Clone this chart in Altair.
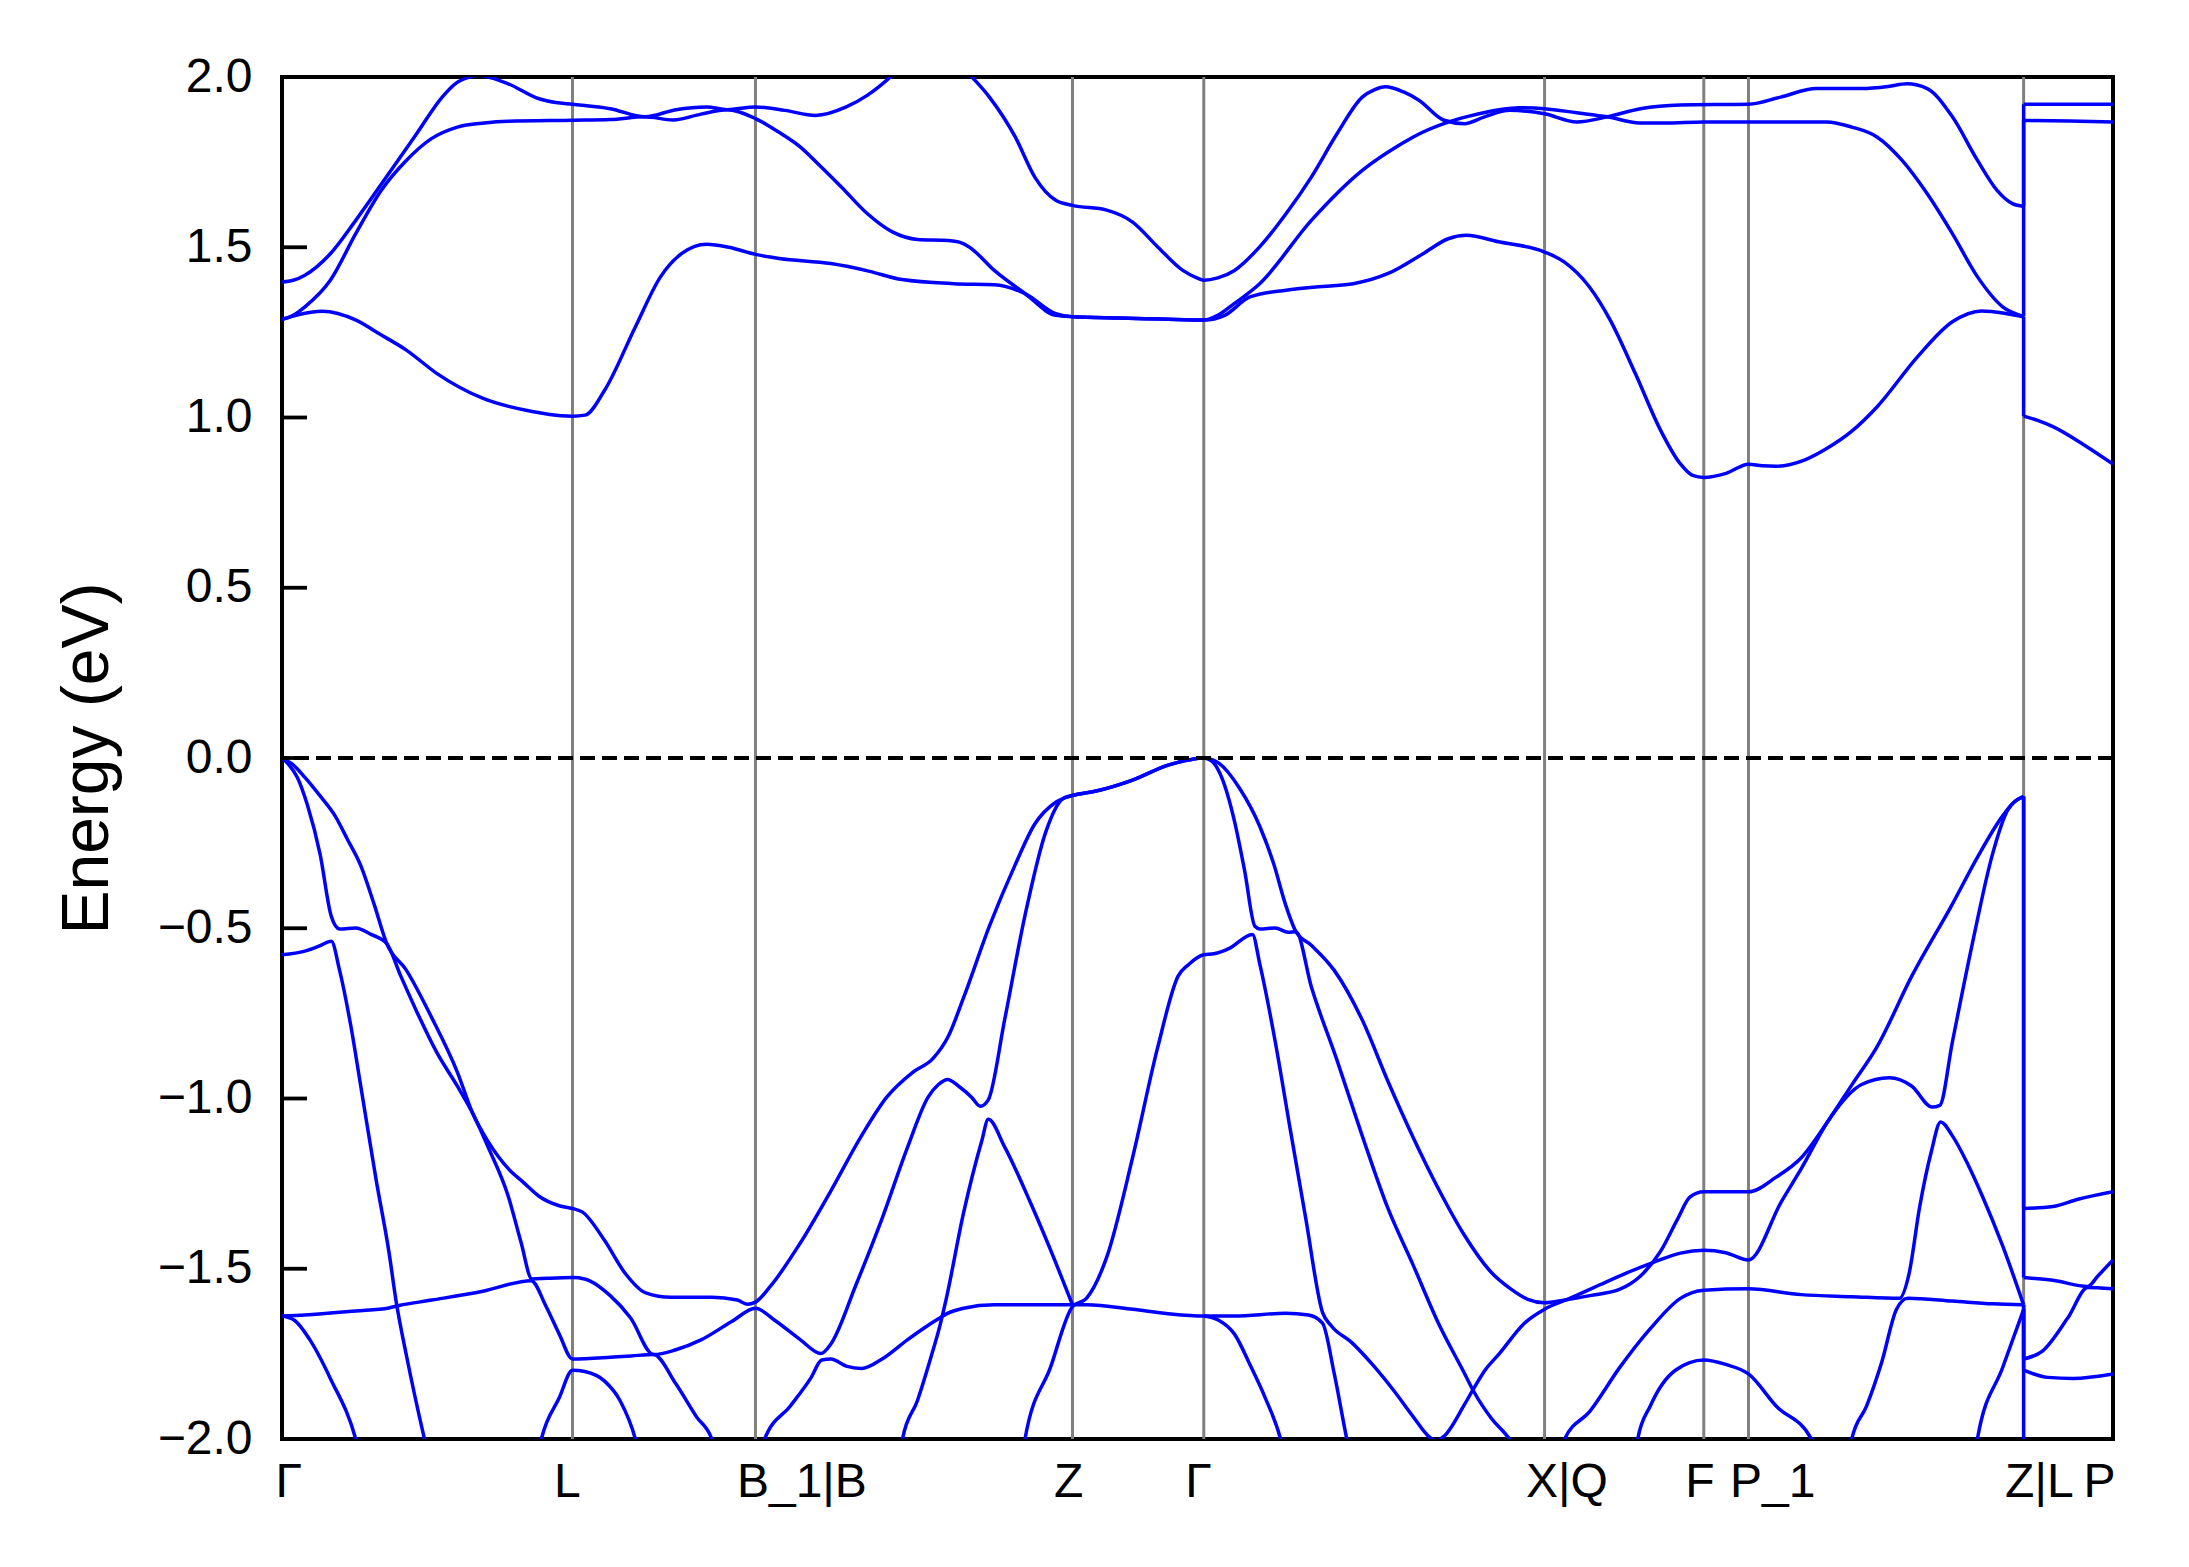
import altair as alt
import pandas as pd

# high-symmetry k positions (path distance, arbitrary units) and labels
KPOS = [0, 208, 339, 566, 660, 904, 1018, 1050, 1247, 1311]
KLABELS = ["Γ", "L", "B_1|B", "Z", "Γ", "X|Q", "F", "P_1", "Z|L", "P"]
YTICKS = [-2.0, -1.5, -1.0, -0.5, 0.0, 0.5, 1.0, 1.5, 2.0]

# conduction bands [k, E]
CB1 = [[0,1.288],[10,1.30],[29,1.312],[53,1.286],[70,1.245],[89,1.198],[111,1.129],[144,1.056],[180,1.017],[200,1.005],[208,1.004],[217,1.007],[231,1.08],[253,1.266],[271,1.413],[286,1.481],[304,1.509],[320,1.50],[339,1.479],[356,1.467],[393,1.452],[420,1.43],[444,1.405],[481,1.393],[510,1.39],[532,1.364],[554,1.305],[566,1.296],[600,1.292],[630,1.289],[660,1.286],[675,1.30],[693,1.354],[719,1.374],[745,1.385],[767,1.393],[792,1.423],[817,1.481],[835,1.525],[848,1.535],[871,1.516],[904,1.486],[918,1.457],[936,1.384],[951,1.286],[969,1.129],[987,0.963],[1001,0.865],[1010,0.83],[1018,0.824],[1034,0.836],[1050,0.863],[1060,0.858],[1070,0.857],[1090,0.875],[1106,0.909],[1124,0.96],[1142,1.031],[1171,1.178],[1196,1.281],[1217,1.313],[1235,1.305],[1247,1.296],[1247,1.004],[1258,0.99],[1268,0.973],[1290,0.92],[1311,0.863]]
CB2 = [[0,1.288],[8,1.30],[16.4,1.325],[34.6,1.403],[52.8,1.54],[71,1.667],[89,1.755],[107,1.819],[125.6,1.853],[145,1.865],[162,1.87],[208,1.873],[235,1.875],[260,1.883],[280,1.874],[300,1.891],[318.6,1.904],[339,1.878],[355,1.84],[371,1.795],[385,1.74],[400.5,1.677],[419,1.599],[437,1.545],[455,1.523],[477,1.52],[485,1.515],[492,1.501],[510,1.432],[532,1.364],[554,1.30],[566,1.296],[600,1.292],[630,1.289],[660,1.286],[670,1.30],[682,1.335],[700,1.393],[737,1.579],[773.5,1.726],[799.5,1.799],[810,1.824],[835.5,1.868],[850,1.885],[871.6,1.904],[886,1.91],[904,1.907],[927,1.895],[949,1.883],[972,1.865],[990,1.865],[1018,1.868],[1050,1.868],[1106,1.868],[1124,1.853],[1142,1.824],[1160,1.755],[1178,1.657],[1196,1.54],[1214,1.413],[1232,1.325],[1247,1.297],[1247,1.872],[1280,1.871],[1311,1.868]]
CB3 = [[0,1.398],[8,1.403],[16.4,1.418],[34.6,1.481],[52.8,1.579],[74.7,1.706],[96.5,1.834],[114.7,1.941],[124,1.98],[133,1.998],[141,2.005],[149,1.998],[162,1.98],[184,1.936],[196,1.925],[208,1.92],[235,1.907],[260,1.883],[282,1.904],[304,1.912],[318.6,1.904],[339,1.912],[360,1.902],[382,1.887],[404,1.912],[419,1.946],[435,1.998],[450,2.06],[465,2.1],[480,2.06],[494,2.0],[506.5,1.941],[525,1.824],[539,1.706],[554,1.638],[566,1.623],[590.5,1.609],[609,1.574],[627,1.501],[645,1.432],[655,1.41],[660,1.403],[670,1.41],[682,1.432],[700,1.501],[719,1.599],[737,1.706],[755.5,1.834],[773.5,1.941],[782,1.962],[790,1.971],[803,1.956],[814,1.932],[832,1.873],[846.5,1.863],[861,1.883],[879,1.902],[904,1.892],[927,1.868],[949,1.883],[972.5,1.907],[1001,1.918],[1050,1.92],[1073,1.941],[1098.6,1.966],[1131,1.966],[1150,1.972],[1163.5,1.98],[1178,1.966],[1196,1.883],[1214,1.755],[1228,1.667],[1239,1.628],[1247,1.62],[1247,1.92],[1280,1.92],[1311,1.92]]

# valence bands [k, E]
VB_A = [[0,0],[8,-0.02],[16.4,-0.057],[27,-0.11],[38,-0.17],[47,-0.24],[56.4,-0.316],[66,-0.43],[75,-0.545],[89,-0.623],[107,-0.761],[125.6,-0.923],[136.6,-1.044],[147.5,-1.126],[162,-1.206],[173,-1.247],[184,-1.287],[198.5,-1.315],[208,-1.323],[214.9,-1.333],[231,-1.417],[245.8,-1.514],[260.4,-1.571],[278.6,-1.584],[307.7,-1.584],[326,-1.592],[333,-1.604],[339,-1.598],[349,-1.555],[371,-1.425],[393,-1.271],[415,-1.109],[433,-0.996],[451.6,-0.923],[466,-0.883],[477,-0.818],[488,-0.704],[506.5,-0.494],[524.7,-0.316],[539,-0.194],[554,-0.13],[566,-0.11],[583,-0.097],[609,-0.065],[634.4,-0.021],[650,-0.005],[660,0],[666,-0.005],[671,-0.016],[685.6,-0.089],[700.2,-0.202],[710,-0.31],[718.5,-0.43],[726,-0.51],[737,-0.55],[753.3,-0.623],[773.4,-0.769],[791.6,-0.947],[810,-1.115],[828,-1.265],[846.5,-1.401],[864.8,-1.506],[880,-1.56],[892,-1.59],[904,-1.6],[918.4,-1.592],[936.4,-1.579],[958,-1.56],[972.5,-1.522],[987,-1.449],[999.5,-1.352],[1008,-1.29],[1018,-1.274],[1050,-1.274],[1069.8,-1.231],[1087.8,-1.174],[1108,-1.06],[1124,-0.96],[1141.8,-0.85],[1167,-0.64],[1196,-0.429],[1214,-0.291],[1232,-0.17],[1240,-0.13],[1247,-0.113],[1247,-1.323],[1268,-1.317],[1286,-1.296],[1311,-1.274]]
VB_B = [[0,0],[5,-0.02],[11,-0.057],[18.2,-0.138],[27.3,-0.283],[35.3,-0.465],[41.2,-0.502],[52.8,-0.499],[63.7,-0.518],[75,-0.545],[85,-0.64],[96.5,-0.745],[111,-0.866],[125.6,-0.964],[136.6,-1.044],[147.5,-1.142],[162,-1.287],[171,-1.42],[179,-1.53],[190,-1.528],[208,-1.526],[216.7,-1.53],[235,-1.579],[249.5,-1.644],[266,-1.752],[282,-1.738],[300,-1.709],[322,-1.655],[339,-1.616],[353,-1.652],[371,-1.708],[385.8,-1.749],[393,-1.721],[411,-1.547],[429.7,-1.352],[448,-1.142],[462.6,-0.996],[470,-0.959],[476.5,-0.944],[484.5,-0.964],[493.7,-0.996],[500,-1.023],[505.7,-1.004],[517.4,-0.769],[532,-0.462],[546.7,-0.219],[559.5,-0.118],[566,-0.11],[583,-0.097],[609,-0.065],[634.4,-0.021],[650,-0.005],[660,0],[666,-0.01],[672.8,-0.057],[682,-0.186],[689.3,-0.332],[696.6,-0.494],[700.2,-0.502],[711.2,-0.499],[720.4,-0.512],[726,-0.51],[737,-0.672],[755,-0.883],[773.4,-1.109],[791.6,-1.32],[810,-1.49],[828,-1.66],[846.5,-1.806],[853.5,-1.862],[866,-1.94],[878.8,-2.0],[882,-2.02]]
VB_C = [[530,-2.07],[532,-2.0],[550.3,-1.789],[566,-1.611],[576,-1.587],[590.5,-1.466],[609,-1.174],[627,-0.85],[641.7,-0.64],[649,-0.607],[660,-0.578],[667.3,-0.575],[678.3,-0.559],[694.8,-0.518],[700.2,-0.607],[711.2,-0.834],[722,-1.093],[733,-1.352],[745,-1.628],[751.4,-1.668],[766,-1.717],[780.7,-1.781],[795.3,-1.854],[810,-1.935],[821,-1.992],[826.4,-2.005],[832,-1.992],[846.5,-1.90],[853.5,-1.85],[861,-1.80],[871.5,-1.75],[889.6,-1.66],[904,-1.619],[922,-1.587],[943.6,-1.547],[961.7,-1.514],[981.5,-1.482],[1001.3,-1.454],[1018,-1.446],[1033.7,-1.453],[1050,-1.474],[1073.4,-1.304],[1087.8,-1.206],[1108,-1.06],[1131,-0.959],[1150.8,-0.939],[1167,-0.964],[1181.5,-1.025],[1187,-1.02],[1196,-0.834],[1210.4,-0.543],[1224.7,-0.283],[1235.5,-0.154],[1247,-0.113],[1247,-1.526],[1268,-1.534],[1293,-1.552],[1300,-1.522],[1311,-1.474]]
VB_D = [[0,-0.578],[16.4,-0.567],[27.3,-0.551],[35.3,-0.538],[41.2,-0.623],[49.2,-0.785],[56.4,-0.964],[67.4,-1.239],[76.5,-1.449],[82,-1.603],[89.2,-1.757],[102,-2.0],[106,-2.07]]
VB_E = [[0,-1.639],[16.4,-1.636],[52.8,-1.624],[76.5,-1.615],[83.8,-1.608],[107.4,-1.592],[143.8,-1.566],[178.4,-1.535],[189,-1.61],[198.5,-1.692],[208,-1.765],[235,-1.76],[250,-1.756],[266,-1.752],[282,-1.838],[296.8,-1.935],[307.7,-2.0],[312,-2.06]]
VB_G = [[0,-1.639],[9.1,-1.652],[20,-1.709],[34.6,-1.822],[52.8,-2.0],[56,-2.05]]
VB_H = [[182,-2.07],[185.7,-2.0],[198.5,-1.879],[208,-1.798],[216.7,-1.802],[231,-1.83],[242,-1.887],[253,-2.0],[256,-2.05]]
VB_I = [[340,-2.08],[345.6,-2.0],[364,-1.903],[378.5,-1.822],[386.5,-1.768],[393,-1.765],[404,-1.786],[415,-1.793],[429.7,-1.765],[448,-1.708],[459,-1.676],[470,-1.647],[476.5,-1.631],[488,-1.616],[510,-1.606],[535.7,-1.606],[566,-1.606],[576,-1.606],[609,-1.619],[634.4,-1.632],[660,-1.639],[682,-1.639],[718.5,-1.631],[735,-1.636],[745,-1.66],[753.3,-1.806],[762.4,-2.0],[765,-2.05]]
VB_J = [[443,-2.07],[444.3,-2.0],[455,-1.887],[466,-1.741],[470,-1.684],[475.4,-1.592],[488,-1.336],[501,-1.125],[505.7,-1.061],[517.4,-1.142],[535.7,-1.304],[554,-1.482],[566,-1.606]]
VB_K = [[660,-1.639],[671,-1.652],[682,-1.692],[693,-1.781],[704,-1.879],[715,-2.0],[718,-2.05]]
VB_M = [[916,-2.05],[918.4,-2.0],[936.4,-1.919],[958,-1.789],[979.7,-1.676],[1001.3,-1.587],[1018,-1.563],[1050,-1.559],[1087.8,-1.576],[1124,-1.582],[1158,-1.587],[1165,-1.514],[1172.5,-1.32],[1180.8,-1.158],[1187.6,-1.069],[1195.9,-1.109],[1206.7,-1.19],[1217.5,-1.287],[1232,-1.433],[1247,-1.606],[1247,-1.765],[1260.7,-1.741],[1278.7,-1.644],[1293,-1.555],[1300,-1.556],[1311,-1.559]]
VB_N = [[1122,-2.05],[1124,-2.0],[1134.6,-1.903],[1145.5,-1.773],[1156,-1.619],[1164,-1.587],[1196,-1.595],[1225,-1.603],[1247,-1.606],[1247,-1.798],[1264.3,-1.819],[1282.3,-1.822],[1311,-1.809]]
VB_O = [[1212,-2.05],[1213.9,-2.0],[1232,-1.79],[1247,-1.62],[1247,-2.05]]
VB_P = [[969,-2.05],[970.7,-2.0],[979.7,-1.903],[997.7,-1.798],[1018,-1.768],[1033.7,-1.781],[1050,-1.809],[1069.8,-1.903],[1095,-2.0],[1098,-2.05]]

pieces = {
    "CB1": CB1, "CB2": CB2, "CB3": CB3,
    "VB_A": VB_A, "VB_B": VB_B, "VB_C": VB_C, "VB_D": VB_D, "VB_E": VB_E,
    "VB_G": VB_G, "VB_H": VB_H, "VB_I": VB_I, "VB_J": VB_J, "VB_K": VB_K,
    "VB_M": VB_M, "VB_N": VB_N, "VB_O": VB_O, "VB_P": VB_P,
}

# split each band where it jumps at a path discontinuity (same k twice):
# smooth runs are drawn with monotone interpolation, the jump as a straight piece
rows = []
for name, pts in pieces.items():
    seg = 0
    prev = None
    for i, (k, e) in enumerate(pts):
        if prev is not None and k == prev[0]:
            rows.append({"band": f"{name}_jump{seg}", "i": 0, "k": k, "E": prev[1]})
            rows.append({"band": f"{name}_jump{seg}", "i": 1, "k": k, "E": e})
            seg += 1
        rows.append({"band": f"{name}_run{seg}", "i": i, "k": k, "E": e})
        prev = (k, e)
bands_df = pd.DataFrame(rows)

FONT = "Liberation Sans"
xscale = alt.Scale(domain=[KPOS[0], KPOS[-1]], nice=False, zero=False)
yscale = alt.Scale(domain=[-2, 2], nice=False, zero=False)

label_expr = ""
for kp, lab in zip(KPOS, KLABELS):
    label_expr += f"datum.value == {kp} ? '{lab}' : "
label_expr += "''"

xaxis = alt.Axis(values=KPOS, labelExpr=label_expr, title="", domain=False,
                 ticks=False, tickSize=0, grid=False, labelFont=FONT,
                 labelFontSize=48, labelColor="black", labelPadding=19,
                 labelFlush=False, labelOverlap=False, labelAlign="left",
                 labelOffset={"condition": [
                     {"test": f"datum.value == {KPOS[0]}", "value": -7},
                     {"test": f"datum.value == {KPOS[-1]}", "value": -30}],
                     "value": -19})
yaxis = alt.Axis(values=YTICKS, format=".1f", title="Energy (eV)", domain=False,
                 ticks=False, tickSize=0, grid=False, labelFont=FONT,
                 labelFontSize=48, labelColor="black", labelPadding=30,
                 titleFont=FONT, titleFontSize=66, titleFontWeight="normal",
                 titleColor="black", titleX=-161, titleY=681, titleAngle=270,
                 titleAlign="center", titleBaseline="bottom")

X = alt.X("k:Q", scale=xscale, axis=xaxis)

vlines = alt.Chart(pd.DataFrame({"k": KPOS[1:-1]})).mark_rule(
    color="#808080", strokeWidth=3).encode(x=X)

bands = alt.Chart(bands_df).mark_line(
    color="#0000ff", strokeWidth=3.5, clip=True, interpolate="monotone").encode(
    x=X,
    y=alt.Y("E:Q", scale=yscale, axis=yaxis),
    detail="band:N",
    order="i:Q",
)

zero = alt.Chart(pd.DataFrame({"E": [0.0]})).mark_rule(
    color="black", strokeWidth=4, strokeDash=[15, 7]).encode(
    y=alt.Y("E:Q", scale=yscale, axis=yaxis))

yticks = alt.Chart(pd.DataFrame({"E": YTICKS})).mark_rule(
    color="black", strokeWidth=3.8).encode(
    y=alt.Y("E:Q", scale=yscale, axis=yaxis),
    x=alt.value(0), x2=alt.value(25))

chart = alt.layer(vlines, bands, zero, yticks).properties(
    width=1831, height=1362,
    padding={"left": 274, "top": 69, "right": 40, "bottom": 100},
    autosize=alt.AutoSizeParams(type="none"),
    background="white",
).configure_view(stroke="black", strokeWidth=4)

chart.save("out.html", embed_options={"renderer": "svg", "actions": False})
